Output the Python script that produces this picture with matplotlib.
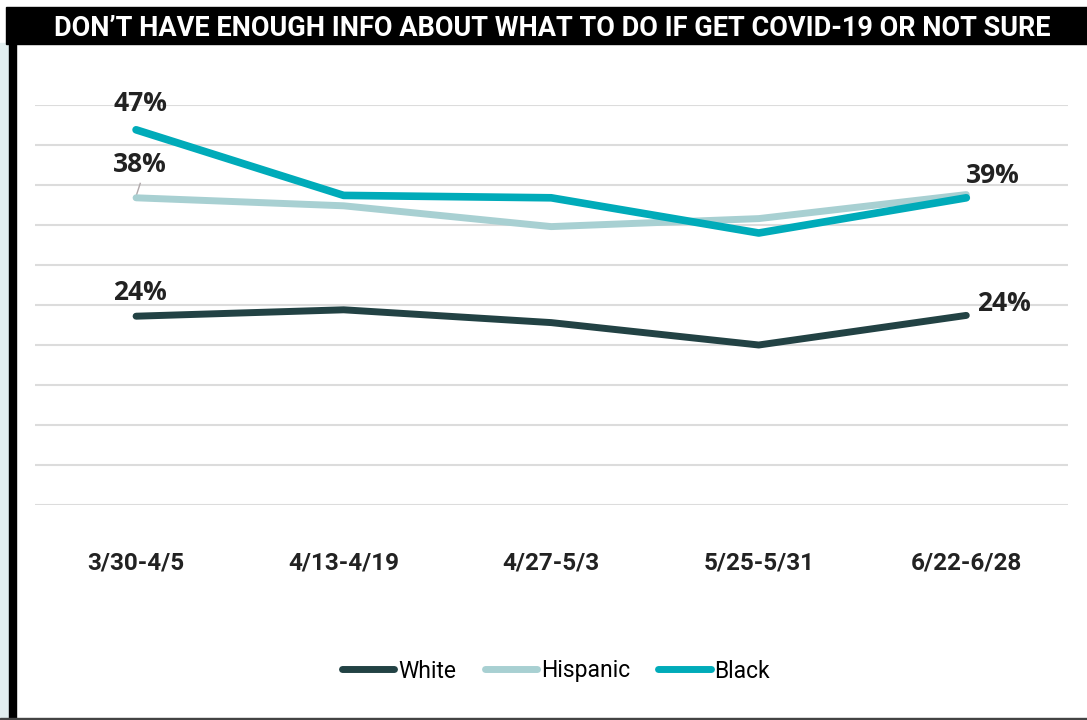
import matplotlib.pyplot as plt
from matplotlib.patches import Rectangle
from matplotlib.lines import Line2D

# data
periods = ["3/30-4/5", "4/13-4/19", "4/27-5/3", "5/25-5/31", "6/22-6/28"]
white = [23.6, 24.4, 22.8, 20.0, 23.7]
hispanic = [38.4, 37.4, 34.8, 35.8, 38.8]
black = [46.9, 38.7, 38.4, 34.0, 38.4]

title = "DON\u2019T HAVE ENOUGH INFO ABOUT WHAT TO DO IF GET COVID-19 OR NOT SURE"
c_white = "#224244"
c_hisp = "#a8d0d2"
c_black = "#00abb9"
cond = ["Roboto", "DejaVu Sans"]

W, H = 1087, 720
fig = plt.figure(figsize=(W / 100, H / 100), dpi=100)

# frame decorations
fig.patches.append(Rectangle((0, 0), 9 / W, 1 - 43 / H, transform=fig.transFigure,
                             color="#e2eeef", zorder=0))
fig.patches.append(Rectangle((9 / W, 0), 7 / W, 1 - 38 / H, transform=fig.transFigure,
                             color="black", zorder=1))
fig.patches.append(Rectangle((6 / W, 1 - 44 / H), 1 - 6 / W, 37 / H, transform=fig.transFigure,
                             color="black", zorder=1))
fig.patches.append(Rectangle((0, 0), 1, 2 / H, transform=fig.transFigure,
                             color="#444444", zorder=1))
fig.text(552 / W, 1 - 28 / H, title, color="white", fontsize=19.5, fontweight="bold",
         family=cond, ha="center", va="center")

ax = fig.add_axes([35 / W, 1 - 505 / H, (1068 - 35) / W, 400 / H])
x = range(len(periods))
ax.plot(x, white, color=c_white, lw=5, solid_capstyle="round", zorder=3)
ax.plot(x, hispanic, color=c_hisp, lw=5, solid_capstyle="round", zorder=3)
ax.plot(x, black, color=c_black, lw=5.5, solid_capstyle="round", zorder=4)

ax.set_xlim(-0.487, 4.49)
ax.set_ylim(0, 50)
ax.set_yticks(range(0, 51, 5))
ax.yaxis.grid(True, color="#dcdcdc", lw=1.5)
ax.set_axisbelow(True)
ax.tick_params(axis="y", left=False, labelleft=False)
ax.tick_params(axis="x", bottom=False, pad=30)
ax.set_xticks(list(x))
ax.set_xticklabels(periods, fontsize=17.5, fontweight="bold", family=cond, color="#222222")
for s in ax.spines.values():
    s.set_visible(False)

lab = dict(fontsize=19, fontweight="bold", family=["Open Sans", "DejaVu Sans"], color="#222222",
           ha="center", va="center")
ax.text(0.02, 50.2, "47%", **lab)
ax.text(0.02, 42.5, "38%", **lab)
ax.plot([0, 0.02], [38.6, 40.2], color="#b0a8aa", lw=1, zorder=2)
ax.text(0.02, 26.5, "24%", **lab)
ax.text(4.13, 41.2, "39%", **lab)
ax.text(4.18, 25.2, "24%", **lab)

handles = [Line2D([], [], color=c, lw=5, solid_capstyle="round") for c in (c_white, c_hisp, c_black)]
fig.legend(handles, ["White", "Hispanic", "Black"], loc="center", bbox_to_anchor=(556 / W, 1 - 671 / H),
           ncol=3, frameon=False, handlelength=2.3, handletextpad=0.15, columnspacing=1.25,
           prop={"family": cond, "size": 16.5})

fig.savefig("out.png", dpi=100)
